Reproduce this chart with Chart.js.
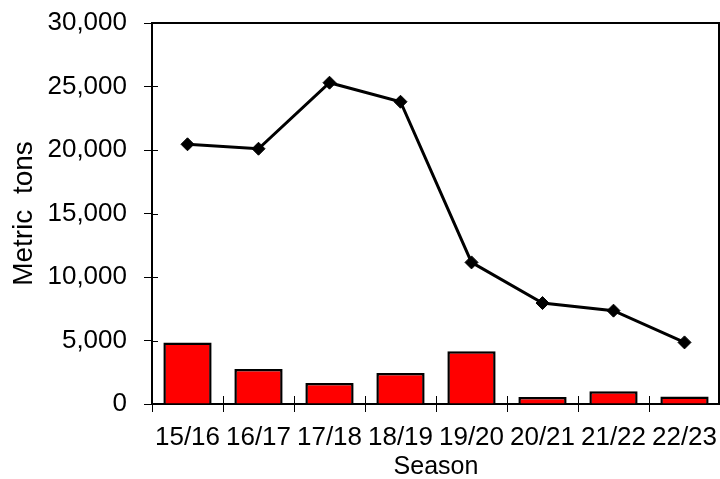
<!DOCTYPE html>
<html>
<head>
<meta charset="utf-8">
<script src="https://cdn.jsdelivr.net/npm/chart.js@4.4.1/dist/chart.umd.min.js"></script>
<style>
  html, body { margin: 0; padding: 0; background: #fff; }
  #wrap { width: 720px; height: 479px; position: relative; }
</style>
</head>
<body>
<div id="wrap"><canvas id="chart"></canvas></div>
<script>
// seasons on the x axis
const seasons = ['15/16', '16/17', '17/18', '18/19', '19/20', '20/21', '21/22', '22/23'];
// line series (black diamonds)
const lineValues = [20450, 20100, 25300, 23800, 11150, 7950, 7350, 4850];
// bar series (red bars)
const barValues = [4850, 2750, 1650, 2450, 4150, 550, 1000, 600];
// y axis ticks
const yTicks = [0, 5000, 10000, 15000, 20000, 25000, 30000];

const FONT = '"Liberation Sans", Arial, sans-serif';

// frame on top/right plus the inner half of the tick marks
const framePlugin = {
  id: 'frame',
  afterDraw(chart) {
    const ctx = chart.ctx;
    const a = chart.chartArea;
    const x = chart.scales.x;
    const y = chart.scales.y;
    ctx.save();
    ctx.strokeStyle = '#000';
    ctx.lineWidth = 2;
    ctx.beginPath();
    ctx.moveTo(a.left, a.top);
    ctx.lineTo(a.right - 1, a.top);
    ctx.lineTo(a.right - 1, a.bottom);
    ctx.stroke();
    ctx.lineWidth = 1;
    ctx.beginPath();
    yTicks.forEach(v => {
      const py = Math.round(y.getPixelForValue(v)) + 0.5;
      ctx.moveTo(a.left, py);
      ctx.lineTo(a.left + 6, py);
    });
    for (let i = 1; i < seasons.length; i++) {
      const px = Math.round((x.getPixelForValue(i - 1) + x.getPixelForValue(i)) / 2) + 0.5;
      ctx.moveTo(px, a.bottom);
      ctx.lineTo(px, a.bottom - 8);
    }
    ctx.stroke();
    ctx.restore();
  }
};

const ctx = document.getElementById('chart');
const chart = new Chart(ctx, {
  type: 'bar',
  data: {
    labels: seasons,
    datasets: [
      {
        type: 'line',
        data: lineValues,
        borderColor: '#000',
        borderWidth: 3,
        backgroundColor: '#000',
        pointStyle: 'rectRot',
        pointRadius: 6.5,
        pointBorderWidth: 1,
        pointBackgroundColor: '#000',
        pointBorderColor: '#000',
        tension: 0,
        order: 0
      },
      {
        type: 'bar',
        data: barValues,
        backgroundColor: '#ff0000',
        borderColor: '#000',
        borderWidth: 2.5,
        categoryPercentage: 1,
        barPercentage: 0.68,
        order: 1
      }
    ]
  },
  options: {
    responsive: true,
    maintainAspectRatio: false,
    animation: false,
    // autoPadding off, otherwise the diamond radius eats 8px on the right
    layout: { autoPadding: false, padding: { top: 23, right: 0, left: 0, bottom: 0 } },
    plugins: {
      legend: { display: false },
      tooltip: { enabled: false }
    },
    scales: {
      x: {
        offset: true,
        grid: { display: true, drawOnChartArea: false, tickLength: 8, color: '#000', offset: true },
        border: { display: true, color: '#000', width: 2 },
        ticks: { color: '#000', padding: 0, maxRotation: 0, autoSkip: false, font: { family: FONT, size: 26, lineHeight: 2.0 } },
        title: { display: true, text: 'Season', color: '#000', padding: 0, font: { family: FONT, size: 25, lineHeight: 0.95 } },
        afterFit(scale) {
          scale.height = 75;
          scale.paddingLeft = 0;
          scale.paddingRight = 0;
        }
      },
      y: {
        min: 0,
        max: 30000,
        afterBuildTicks(scale) { scale.ticks = yTicks.map(v => ({ value: v })); },
        grid: { display: true, drawOnChartArea: false, tickLength: 8, color: '#000' },
        border: { display: true, color: '#000', width: 2 },
        ticks: {
          color: '#000',
          padding: 17,
          font: { family: FONT, size: 26 },
          callback: v => v.toLocaleString('en-US')
        },
        title: { display: true, text: 'Metric  tons', color: '#000', padding: { top: 7 }, font: { family: FONT, size: 28 } },
        afterFit(scale) {
          scale.width = 152;
          scale.paddingTop = 0;
          scale.paddingBottom = 0;
        }
      }
    }
  },
  plugins: [framePlugin]
});
</script>
</body>
</html>
